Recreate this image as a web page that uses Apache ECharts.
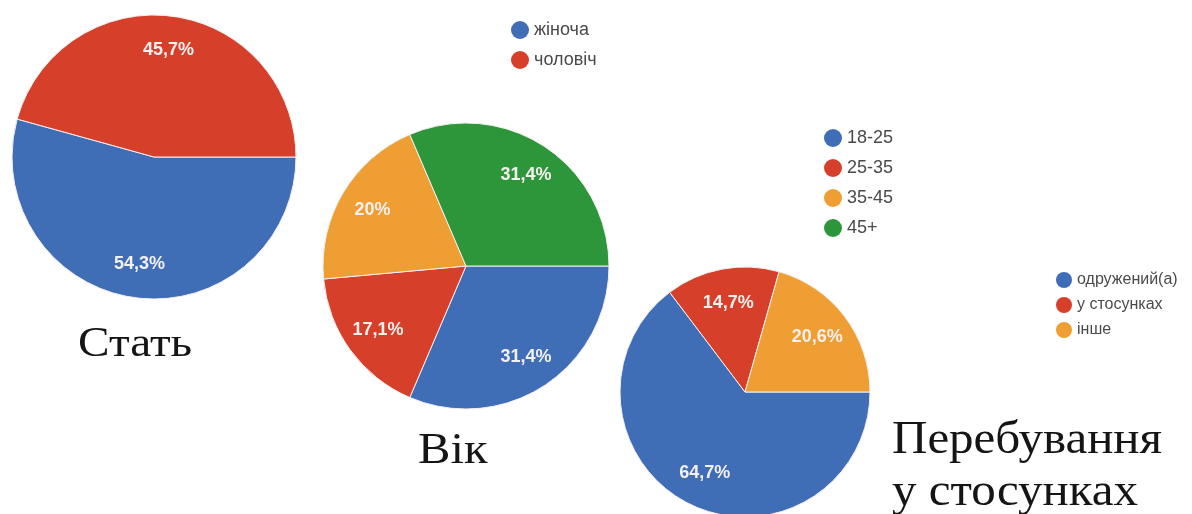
<!DOCTYPE html>
<html>
<head>
<meta charset="utf-8">
<script src="https://cdn.jsdelivr.net/npm/echarts@6/dist/echarts.min.js"></script>
<style>
  html, body { margin: 0; padding: 0; background: #fff; }
  #chart { width: 1192px; height: 514px; }
</style>
</head>
<body>
<div id="chart"></div>
<script>
// Стать
const genderNames = ['жіноча', 'чоловіч'];
const genderValues = [54.3, 45.7];
// Вік
const ageNames = ['18-25', '25-35', '35-45', '45+'];
const ageValues = [31.4, 17.1, 20, 31.4];
// Перебування у стосунках
const relNames = ['одружений(а)', 'у стосунках', 'інше'];
const relValues = [64.7, 14.7, 20.6];

const genderColors = ['#3f6db6', '#d6402a'];
const ageColors = ['#3f6db6', '#d6402a', '#ef9e33', '#2e963a'];
const relColors = ['#3f6db6', '#d6402a', '#ef9e33'];

function pct(v) {
  return String(v).replace('.', ',') + '%';
}

function toData(names, values, colors, transparent) {
  return names.map((n, i) => ({
    name: n,
    value: values[i],
    itemStyle: transparent ? { color: 'rgba(0,0,0,0)', borderWidth: 0 } : { color: colors[i] }
  }));
}

// a filled pie plus a transparent ring that carries the percentage labels
function pieSeries(names, values, colors, center, r, labelRatio) {
  const inner = Math.max(0, 2 * labelRatio - 1) * r;
  return [
    {
      type: 'pie',
      center: center,
      radius: [0, r],
      startAngle: 0,
      clockwise: true,
      silent: true,
      label: { show: false },
      labelLine: { show: false },
      itemStyle: { borderColor: '#f6eeee', borderWidth: 1 },
      emphasis: { disabled: true },
      data: toData(names, values, colors, false)
    },
    {
      type: 'pie',
      center: center,
      radius: [inner, r],
      startAngle: 0,
      clockwise: true,
      silent: true,
      z: 3,
      label: {
        show: true,
        position: 'inside',
        formatter: p => pct(p.value),
        color: '#f3f0ee',
        fontFamily: 'Liberation Sans, Arial, sans-serif',
        fontWeight: 'bold',
        fontSize: 18
      },
      labelLine: { show: false },
      emphasis: { disabled: true },
      data: toData(names, values, colors, true)
    }
  ];
}

function legendFor(names, colors, left, top, size, gap, fontSize) {
  return {
    orient: 'vertical',
    left: left,
    top: top,
    padding: 0,
    icon: 'circle',
    itemWidth: size,
    itemHeight: size,
    itemGap: gap,
    selectedMode: false,
    textStyle: { color: '#4a4a4a', fontSize: fontSize, fontFamily: 'Liberation Sans, Arial, sans-serif' },
    data: names.map((n, i) => ({ name: n, itemStyle: { color: colors[i], borderWidth: 0 } }))
  };
}

const serif = 'Liberation Serif, Times New Roman, serif';
// captions: x is the left edge, y the top of the text box; widened a little
function caption(text, x, top, size, sx) {
  return {
    type: 'text',
    x: x,
    y: top,
    scaleX: sx,
    style: {
      text: text,
      fill: '#151515',
      font: size + 'px ' + serif,
      textAlign: 'left'
    }
  };
}

const chart = echarts.init(document.getElementById('chart'));
chart.setOption({
  backgroundColor: '#ffffff',
  animation: false,
  legend: [
    legendFor(genderNames, genderColors, 511, 21, 18, 12, 18),
    legendFor(ageNames, ageColors, 824, 129, 18, 12, 18),
    legendFor(relNames, relColors, 1056, 272, 16, 9, 16)
  ],
  series: [
    ...pieSeries(genderNames, genderValues, genderColors, [154, 157], 142, 0.74),
    ...pieSeries(ageNames, ageValues, ageColors, [466, 266], 143, 0.74),
    ...pieSeries(relNames, relValues, relColors, [745, 392], 125, 0.7)
  ],
  graphic: [
    caption('Стать', 78, 323, 43, 1.1),
    caption('Вік', 418, 429, 45, 1.08),
    caption('Перебування', 892, 418, 46, 1.065),
    caption('у стосунках', 892, 470, 46, 1.065)
  ]
});
</script>
</body>
</html>
